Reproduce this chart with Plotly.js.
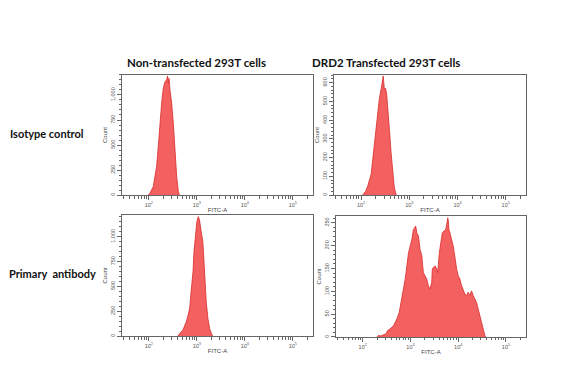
<!DOCTYPE html>
<html><head><meta charset="utf-8">
<script src="https://cdn.plot.ly/plotly-3.0.1.min.js"></script>
<style>html,body{margin:0;padding:0;background:#fff;}#chart{width:582px;height:378px;}</style>
</head><body><div id="chart"></div>
<script>
// Column titles and row labels
const colTitles = ["Non-transfected 293T cells", "DRD2 Transfected 293T cells"];
const rowLabels = ["Isotype control", "Primary\u00a0 antibody"];

// Histogram data: x = log10(FITC-A), y = Count
const isoNonX = [1.986,2.021,2.091,2.126,2.161,2.196,2.231,2.266,2.30,2.336,2.37,2.39,2.405,2.42,2.44,2.475,2.51,2.545,2.58,2.615,2.636];
const isoNonY = [0,17,83,183,283,483,717,917,1067,1133,1150,1190,1120,1167,1050,917,717,417,183,33,0];

const isoDrdX = [2.035,2.10,2.14,2.17,2.21,2.24,2.28,2.31,2.35,2.38,2.42,2.45,2.46,2.485,2.505,2.53,2.555,2.59,2.625,2.66,2.69,2.73];
const isoDrdY = [0,22,49,75,111,183,273,363,453,516,570,606,636,561,570,543,471,345,219,111,40,0];

const priNonX = [2.605,2.64,2.675,2.71,2.745,2.78,2.81,2.85,2.88,2.92,2.94,2.97,3.0,3.03,3.055,3.09,3.125,3.145,3.17,3.195,3.23,3.265,3.30,3.33];
const priNonY = [0,27,44,60,94,144,195,279,446,648,849,1017,1151,1202,1168,1051,950,782,547,346,178,77,27,0];

const priDrdX = [2.30,2.333,2.37,2.44,2.49,2.52,2.577,2.646,2.717,2.765,2.806,2.855,2.89,2.925,2.96,2.994,3.03,3.06,3.083,3.11,3.133,3.167,3.2,3.237,3.27,3.306,3.34,3.375,3.41,3.445,3.458,3.48,3.515,3.55,3.57,3.605,3.633,3.667,3.70,3.737,3.758,3.78,3.79,3.806,3.827,3.862,3.896,3.917,3.946,3.967,4.0,4.035,4.07,4.104,4.14,4.175,4.208,4.244,4.28,4.3125,4.348,4.383,4.417,4.452,4.487,4.52,4.556,4.577];
const priDrdY = [0,4,2,4,7,14,18,25,40,54,76,105,127,156,185,199,214,235,239,243,228,221,192,178,141,134,127,112,105,120,149,152,156,149,141,185,207,228,232,235,246,261,257,235,228,214,199,185,156,149,134,127,112,105,94,91,98,91,101,91,83,76,62,47,33,15,4,0];

// Tick labels
const xTickVals = [2,3,4,5];
const xTickText = ["10<sup>2</sup>","10<sup>3</sup>","10<sup>4</sup>","10<sup>5</sup>"];
const yTicks1 = [0,250,500,750,1000];
const yText1 = ["0","250","500","750","1,000"];
const yTicks2 = [0,100,200,300,400,500,600];
const yText2 = ["0","100","200","300","400","500","600"];
const yTicks4 = [0,50,100,150,200,250];
const yText4 = ["0","50","100","150","200","250"];

const minorX = [];
for (let n = 1; n <= 5; n++) for (let k = 2; k <= 9; k++) minorX.push(n + Math.log10(k));

const fillC = "rgba(243,96,96,1)";
const lineC = "#d92b2b";
function tr(x, y, xa, ya) {
  return {x: x, y: y, xaxis: xa, yaxis: ya, type: "scatter", mode: "lines",
    fill: "tozeroy", fillcolor: fillC, line: {color: lineC, width: 0.8}, hoverinfo: "skip"};
}
const data = [
  tr(isoNonX, isoNonY, "x", "y"),
  tr(isoDrdX, isoDrdY, "x2", "y2"),
  tr(priNonX, priNonY, "x3", "y3"),
  tr(priDrdX, priDrdY, "x4", "y4")
];

const tickFont = {family: "Liberation Sans, Arial, sans-serif", size: 5.5, color: "#555"};
function xax(dom, anchor) {
  return {domain: dom, anchor: anchor, range: [1.44, 5.42], showgrid: false, zeroline: false,
    showline: true, mirror: true, linecolor: "#666", linewidth: 1,
    ticks: "outside", ticklen: 4, tickwidth: 1, tickcolor: "#666",
    tickmode: "array", tickvals: xTickVals, ticktext: xTickText, tickfont: tickFont,
    minor: {tickmode: "array", tickvals: minorX, ticks: "outside", ticklen: 2.5, tickwidth: 1, tickcolor: "#666"},
    title: {text: "FITC-A", font: {family: "Liberation Sans, Arial, sans-serif", size: 6, color: "#444"}, standoff: 1},
    fixedrange: true};
}
function yax(dom, anchor, top, tv, tt, mdt) {
  return {domain: dom, anchor: anchor, range: [0, top], showgrid: false, zeroline: false,
    showline: true, mirror: true, linecolor: "#666", linewidth: 1,
    ticks: "outside", ticklen: 4, tickwidth: 1, tickcolor: "#666",
    tickmode: "array", tickvals: tv, ticktext: tt, tickangle: -90, tickfont: tickFont,
    minor: {dtick: mdt, ticks: "outside", ticklen: 2, tickwidth: 1, tickcolor: "#666"},
    title: {text: "Count", font: {family: "Liberation Sans, Arial, sans-serif", size: 6, color: "#444"}, standoff: 1},
    fixedrange: true};
}

const layout = {
  width: 582, height: 378, margin: {l: 0, r: 0, t: 0, b: 0},
  paper_bgcolor: "#fff", plot_bgcolor: "#fff", showlegend: false,
  xaxis: xax([0.2096, 0.5378], "y"),
  yaxis: yax([0.4841, 0.8016], "x", 1200, yTicks1, yText1, 50),
  xaxis2: xax([0.5739, 0.9038], "y2"),
  yaxis2: yax([0.4841, 0.8016], "x2", 641, yTicks2, yText2, 20),
  xaxis3: xax([0.2096, 0.5378], "y3"),
  yaxis3: yax([0.1111, 0.4312], "x3", 1218, yTicks1, yText1, 50),
  xaxis4: xax([0.5773, 0.9038], "y4"),
  yaxis4: yax([0.1085, 0.4286], "x4", 265, yTicks4, yText4, 10),
  annotations: [
    {text: "<b>" + colTitles[0] + "</b>", x: 196/582, y: 1 - 63/378, xref: "paper", yref: "paper", showarrow: false,
     xanchor: "center", yanchor: "middle", font: {family: "Lato, sans-serif", size: 11.5, color: "#111"}},
    {text: "<b>" + colTitles[1] + "</b>", x: 386/582, y: 1 - 63/378, xref: "paper", yref: "paper", showarrow: false,
     xanchor: "center", yanchor: "middle", font: {family: "Lato, sans-serif", size: 11.5, color: "#111"}},
    {text: "<b>" + rowLabels[0] + "</b>", x: 8/582, y: 1 - 134/378, xref: "paper", yref: "paper", showarrow: false,
     xanchor: "left", yanchor: "middle", font: {family: "Lato, sans-serif", size: 11, color: "#111"}},
    {text: "<b>" + rowLabels[1] + "</b>", x: 7/582, y: 1 - 273/378, xref: "paper", yref: "paper", showarrow: false,
     xanchor: "left", yanchor: "middle", font: {family: "Lato, sans-serif", size: 11, color: "#111"}}
  ]
};
Plotly.newPlot("chart", data, layout, {staticPlot: true, displayModeBar: false});
</script></body></html>
